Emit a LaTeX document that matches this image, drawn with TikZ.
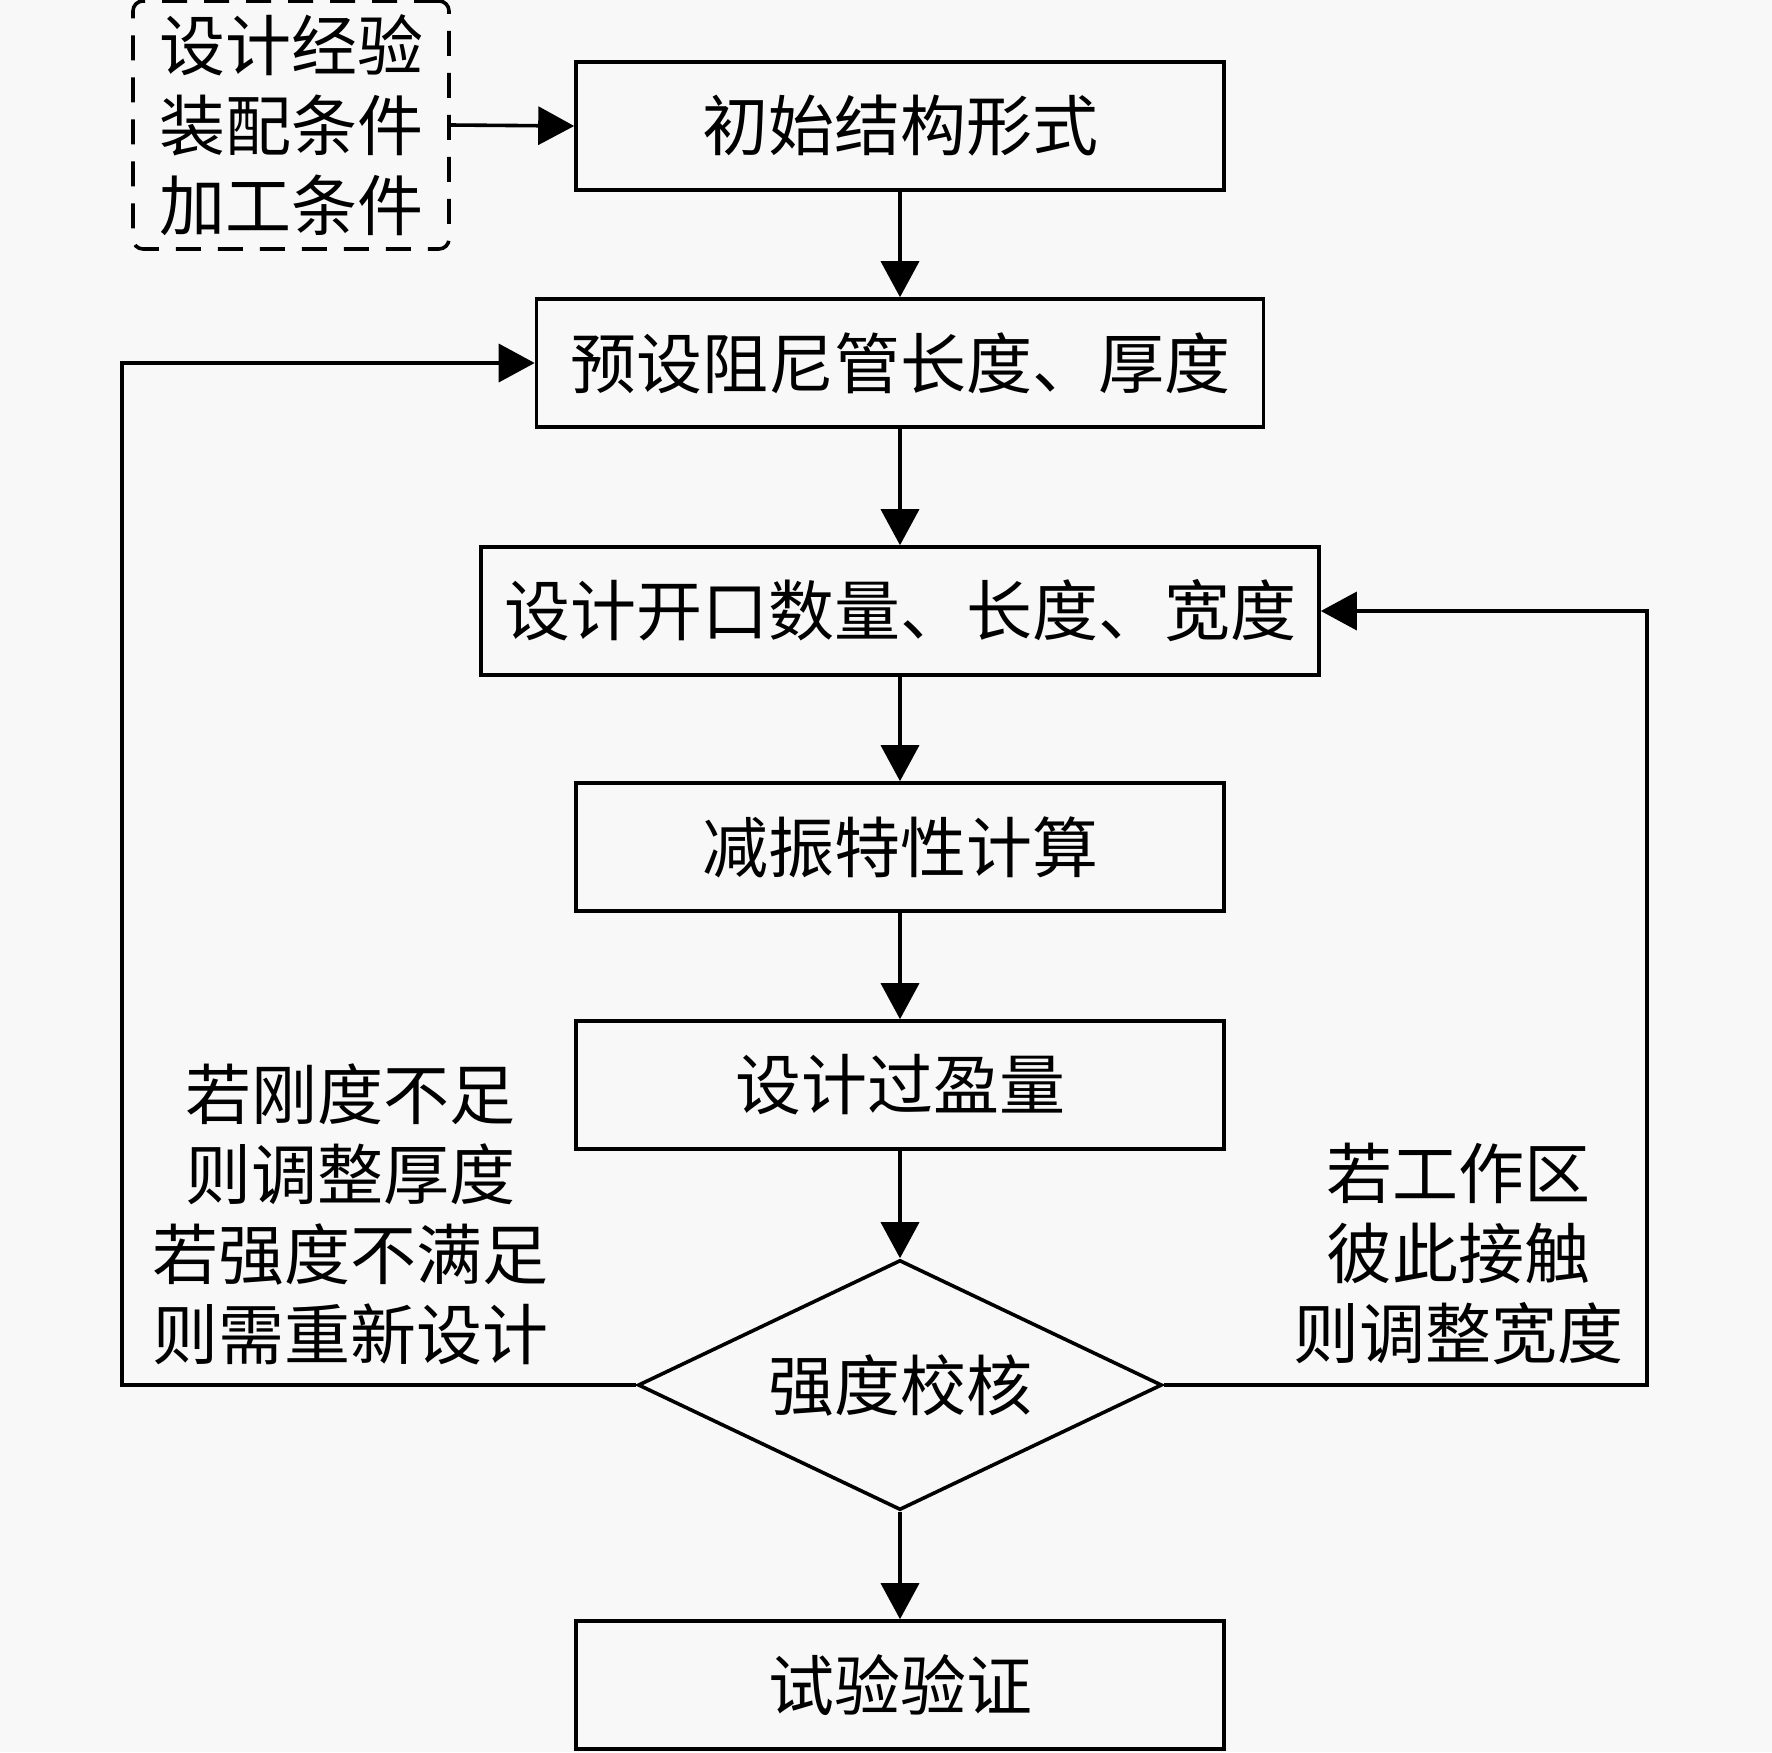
\documentclass[tikz,border=0pt]{standalone}
\usepackage{fontspec}
\setmainfont{Noto Sans CJK SC}
\usetikzlibrary{shapes.geometric,arrows.meta}
\definecolor{bgc}{RGB}{248,248,248}
\begin{document}
\begin{tikzpicture}[x=0.5pt,y=-0.5pt,
  every node/.style={font=\fontsize{33}{40}\selectfont},
  stepbox/.style={draw,line width=1.8pt,minimum height=64pt,inner sep=0pt},
  decide/.style={draw,diamond,aspect=2.1,line width=1.8pt,minimum width=262pt,minimum height=125pt,inner sep=0pt},
  flow/.style={line width=1.8pt,-{Triangle[length=18pt,width=19pt]}},
  dashbox/.style={draw,line width=1.8pt,dash pattern=on 12.5pt off 8.5pt,rounded corners=5pt,inner sep=0pt},
  note/.style={align=center,inner sep=0pt}]
\useasboundingbox[fill=bgc] (0,0) rectangle (1772,1752);
\node[dashbox,minimum width=158pt,minimum height=124pt,note] (src) at (291,125) {设计经验\\装配条件\\加工条件};
\node[stepbox,minimum width=324pt] (b1) at (900,126) {初始结构形式};
\node[stepbox,minimum width=363.5pt] (b2) at (900,363) {预设阻尼管长度、厚度};
\node[stepbox,minimum width=419pt] (b3) at (900,611) {设计开口数量、长度、宽度};
\node[stepbox,minimum width=324pt] (b4) at (900,847) {减振特性计算};
\node[stepbox,minimum width=324pt] (b5) at (900,1085) {设计过盈量};
\node[decide] (d) at (900,1385) {强度校核};
\node[stepbox,minimum width=324pt] (b6) at (900,1685) {试验验证};
\node[note] (lt) at (350,1214) {若刚度不足\\则调整厚度\\若强度不满足\\则需重新设计};
\node[note] (rt) at (1458,1254) {若工作区\\彼此接触\\则调整宽度};
\coordinate (L) at (122,1385);
\coordinate (R) at (1647,1385);
\draw[flow] (src.east) -- (b1.west);
\draw[flow] (b1) -- (b2);
\draw[flow] (b2) -- (b3);
\draw[flow] (b3) -- (b4);
\draw[flow] (b4) -- (b5);
\draw[flow] (b5) -- (d);
\draw[flow] (d) -- (b6);
\draw[flow] (d.west) -- (L) |- (b2.west);
\draw[flow] (d.east) -- (R) |- (b3.east);
\end{tikzpicture}
\end{document}
